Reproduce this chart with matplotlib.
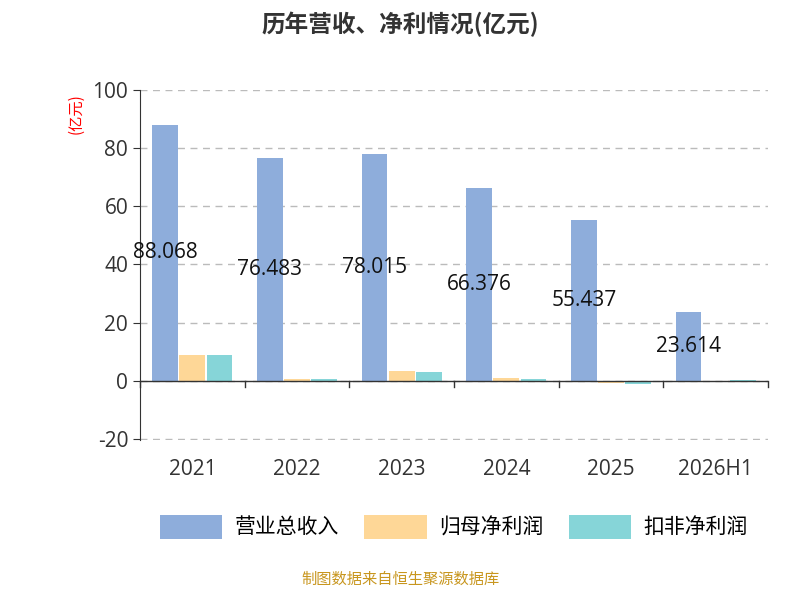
import matplotlib
matplotlib.use('Agg')
import matplotlib.pyplot as plt
import numpy as np

plt.rcParams['font.family'] = ['Open Sans', 'Noto Sans CJK SC', 'DejaVu Sans']
plt.rcParams['axes.unicode_minus'] = False

years = ['2021', '2022', '2023', '2024', '2025', '2026H1']
revenue = [88.068, 76.483, 78.015, 66.376, 55.437, 23.614]
net_profit = [9.0, 0.7, 3.4, 1.0, -0.8, -0.3]
deducted_profit = [8.8, 0.5, 3.0, 0.6, -1.2, 0.4]

fig = plt.figure(figsize=(8, 6), dpi=100)
ax = fig.add_axes([0.175, 0.267, 0.785, 0.583])

x = np.arange(len(years))
w = 0.26
ax.bar(x - w, revenue, w * 0.95, color='#8eaddb', label='营业总收入')
ax.bar(x, net_profit, w * 0.95, color='#fed797', label='归母净利润')
ax.bar(x + w, deducted_profit, w * 0.95, color='#86d5d8', label='扣非净利润')

for i, v in enumerate(revenue):
    ax.text(x[i] - w, v / 2, f'{v:.3f}', ha='center', va='center', fontsize=15, color='#111111')

ax.set_xlim(-0.5, len(years) - 0.5)
ax.set_ylim(-20.3, 100)
ax.set_yticks(range(-20, 101, 20))
ax.set_xticks(x)
ax.set_xticklabels(years)
ax.tick_params(axis='both', labelsize=15, colors='#333333', length=5)
ax.grid(axis='y', linestyle=(0, (5, 4)), color='#bbbbbb', linewidth=1)
ax.set_axisbelow(True)
for s in ['top', 'right', 'bottom']:
    ax.spines[s].set_visible(False)
ax.spines['left'].set_color('#333333')
ax.axhline(0, color='#333333', linewidth=1)
for xb in np.arange(-0.5, len(years), 1.0):
    ax.plot([xb, xb], [0, -2], color='#333333', linewidth=1, clip_on=False)
ax.tick_params(axis='x', length=0, pad=14)

fig.text(0.095, 0.81, '(亿元)', rotation=90, color='red', fontsize=11, ha='center', va='center',
         family=['Noto Sans CJK SC', 'DejaVu Sans'])
fig.text(0.5, 0.96, '历年营收、净利情况(亿元)', ha='center', va='center', fontsize=17,
         fontweight='bold', color='#333333', family=['Noto Sans CJK SC', 'DejaVu Sans'])

leg = ax.legend(loc='upper center', bbox_to_anchor=(0.5, -0.16), ncol=3, frameon=False,
                fontsize=15, handlelength=3.0, handleheight=1.4, columnspacing=1.2,
                handletextpad=0.6, prop={'family': ['Noto Sans CJK SC', 'DejaVu Sans'], 'size': 15})

fig.text(0.5, 0.02, '制图数据来自恒生聚源数据库', ha='center', va='bottom', fontsize=11, color='#c8961e',
         family=['Noto Sans CJK SC', 'DejaVu Sans'])

fig.savefig('out.png', dpi=100)
